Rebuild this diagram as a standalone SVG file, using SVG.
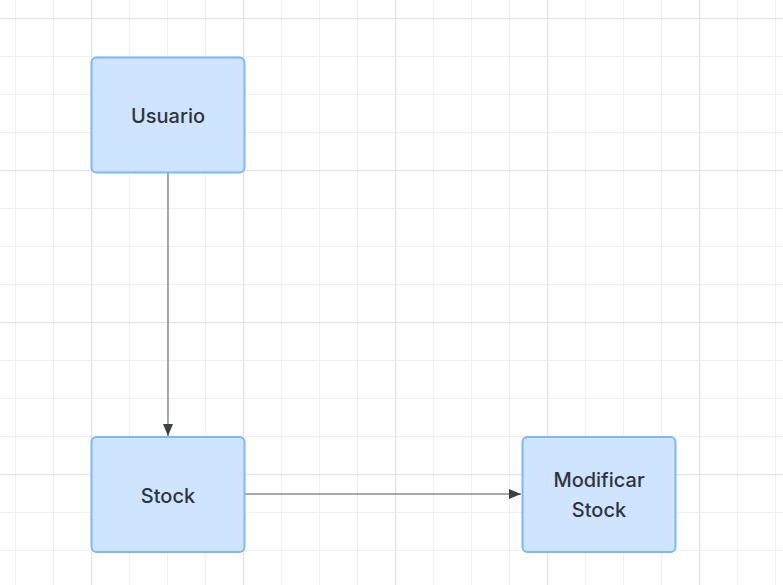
<svg xmlns="http://www.w3.org/2000/svg" width="783" height="585" viewBox="0 0 783 585">
<defs>
<pattern id="minor" x="15" y="18" width="38" height="38" patternUnits="userSpaceOnUse">
<path d="M0.5 0V38M0 0.5H38" fill="none" stroke="#f0f0f0" stroke-width="1"/>
</pattern>
<pattern id="major" x="91" y="18" width="152" height="152" patternUnits="userSpaceOnUse">
<path d="M0.5 0V152M0 0.5H152" fill="none" stroke="#e4e4e4" stroke-width="1.5"/>
</pattern>
<marker id="arrow" viewBox="0 0 12 10" refX="12" refY="5" markerWidth="12" markerHeight="10" markerUnits="userSpaceOnUse" orient="auto">
<path d="M0 0L12 5L0 10Z" fill="#3a3f48"/>
</marker>
</defs>
<style>
.node rect{fill:#cfe4ff;stroke:#7db7fc;stroke-width:2}
.node text{font-family:Inter,"Noto Sans","Liberation Sans",sans-serif;font-size:20px;font-weight:500;fill:#30353d;text-anchor:middle}
.edge{fill:none;stroke:#8a8d92;stroke-width:1.5}
</style>
<rect width="783" height="585" fill="#ffffff"/>
<rect width="783" height="585" fill="url(#minor)"/>
<rect width="783" height="585" fill="url(#major)"/>
<g id="connectors">
<path class="edge" d="M168 173V436" marker-end="url(#arrow)"/>
<path class="edge" d="M245 494H521" marker-end="url(#arrow)"/>
</g>
<g id="usuario" class="node">
<rect x="91.5" y="57.5" width="153" height="115" rx="5"/>
<text x="168" y="123">Usuario</text>
</g>
<g id="stock" class="node">
<rect x="91.5" y="437" width="153" height="115" rx="5"/>
<text x="168" y="503">Stock</text>
</g>
<g id="modificar-stock" class="node">
<rect x="522.5" y="437" width="153" height="115" rx="5"/>
<text x="599" y="487">Modificar</text>
<text x="599" y="517">Stock</text>
</g>
</svg>
